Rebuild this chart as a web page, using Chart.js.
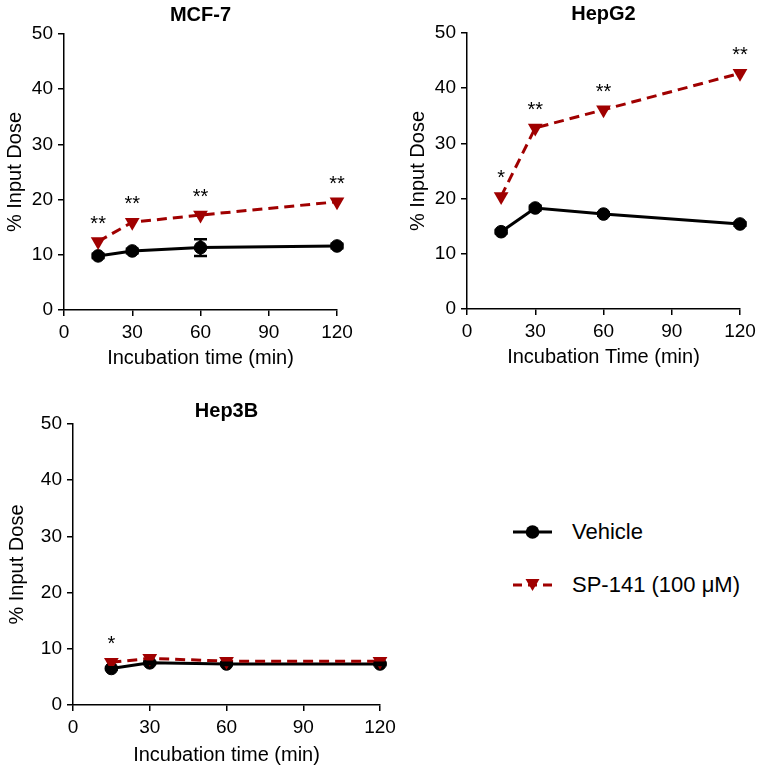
<!DOCTYPE html>
<html><head><meta charset="utf-8">
<script src="https://cdn.jsdelivr.net/npm/chart.js@4/dist/chart.umd.min.js"></script>
<style>
body{margin:0;background:#fff;width:762px;height:771px;position:relative;overflow:hidden;font-family:'Liberation Sans',Arial,sans-serif;}
canvas{position:absolute;}
.lg{position:absolute;font-size:22px;color:#000;line-height:24px;white-space:nowrap;}
svg{position:absolute;}
</style></head><body>
<canvas id="c1" width="380" height="380" style="left:0;top:0"></canvas>
<canvas id="c2" width="359" height="380" style="left:403px;top:0"></canvas>
<canvas id="c3" width="420" height="391" style="left:0;top:380px"></canvas>

<svg width="50" height="20" style="left:508px;top:522px">
  <line x1="5" y1="10" x2="44" y2="10" stroke="#000" stroke-width="3"/>
  <circle cx="24.5" cy="10" r="6.8" fill="#000"/>
</svg>
<div class="lg" style="left:572px;top:520px">Vehicle</div>
<svg width="50" height="20" style="left:508px;top:575px">
  <line x1="5" y1="10" x2="44" y2="10" stroke="#A00000" stroke-width="3" stroke-dasharray="9,6"/>
  <polygon points="17.5,4 31.5,4 24.5,16" fill="#A00000"/>
</svg>
<div class="lg" style="left:572px;top:573px">SP-141 (100 μM)</div>

<script>
// ---- data ----
const times = [15, 30, 60, 120];
const xTicks = [0, 30, 60, 90, 120];
const yTicks = [0, 10, 20, 30, 40, 50];

const mcfVehicle = [9.8, 10.7, 11.3, 11.6];
const mcfVehicleErr = [0.4, 0.4, 1.5, 0.4];
const mcfSP = [12.4, 15.9, 17.2, 19.6];
const mcfSig = ['**', '**', '**', '**'];

const hepg2Vehicle = [14.0, 18.3, 17.2, 15.4];
const hepg2VehicleErr = [0.3, 0.4, 0.3, 0.3];
const hepg2SP = [20.4, 32.8, 36.1, 42.7];
const hepg2Sig = ['*', '**', '**', '**'];

const hep3bVehicle = [6.5, 7.5, 7.3, 7.3];
const hep3bVehicleErr = [0.2, 0.2, 0.2, 0.2];
const hep3bSP = [7.6, 8.3, 7.8, 7.8];
const hep3bSig = ['*', '', '', ''];

const FONT = "'Liberation Sans', Arial, sans-serif";
const RED = '#A00000';

const extrasPlugin = {
  id: 'extras',
  afterDatasetsDraw(chart, args, opts) {
    const ctx = chart.ctx;
    const xs = chart.scales.x, ys = chart.scales.y;
    ctx.save();
    ctx.strokeStyle = '#000';
    ctx.lineWidth = 2.5;
    opts.vehicle.forEach((v, i) => {
      const e = opts.err[i];
      const px = xs.getPixelForValue(opts.times[i]);
      const top = ys.getPixelForValue(v + e), bot = ys.getPixelForValue(v - e);
      ctx.beginPath();
      ctx.moveTo(px, top); ctx.lineTo(px, bot);
      ctx.moveTo(px - 6.5, top); ctx.lineTo(px + 6.5, top);
      ctx.moveTo(px - 6.5, bot); ctx.lineTo(px + 6.5, bot);
      ctx.stroke();
    });
    ctx.fillStyle = '#000';
    ctx.font = '20px ' + FONT;
    ctx.textAlign = 'center';
    ctx.textBaseline = 'alphabetic';
    opts.sig.forEach((s, i) => {
      if (!s) return;
      const px = xs.getPixelForValue(opts.times[i]);
      const py = ys.getPixelForValue(opts.sp[i]);
      ctx.fillText(s, px, py - 12);
    });
    ctx.restore();
  }
};

function makePanel(id, title, xTitle, vehicle, err, sp, sig, L) {
  const ctx = document.getElementById(id);
  return new Chart(ctx, {
    type: 'line',
    data: {
      datasets: [
        {
          label: 'SP-141 (100 μM)',
          data: times.map((t, i) => ({x: t, y: sp[i]})),
          borderColor: RED, backgroundColor: RED,
          borderWidth: 3, borderDash: [10, 6],
          pointStyle: 'triangle', rotation: 180,
          pointRadius: 8.5, pointBorderWidth: 0, pointHoverRadius: 8.5,
          clip: false
        },
        {
          label: 'Vehicle',
          data: times.map((t, i) => ({x: t, y: vehicle[i]})),
          borderColor: '#000', backgroundColor: '#000',
          borderWidth: 3,
          pointStyle: 'circle', pointRadius: 6.3, pointBorderWidth: 1, pointHoverRadius: 6.3,
          clip: false
        }
      ]
    },
    options: {
      responsive: false,
      animation: false,
      events: [],
      layout: {padding: {left: 0, right: L.right, top: 0, bottom: 0}},
      plugins: {
        legend: {display: false},
        tooltip: {enabled: false},
        title: {
          display: true, text: title, fullSize: false, color: '#000',
          font: {family: FONT, size: 20, weight: 'bold'},
          padding: {top: L.tTop, bottom: L.tBottom}
        },
        extras: {times, vehicle, err, sp, sig}
      },
      scales: {
        x: {
          type: 'linear', min: 0, max: 120,
          afterFit(s) { s.height = L.xh; },
          afterBuildTicks(s) { s.ticks = xTicks.map(v => ({value: v})); },
          ticks: {color: '#000', font: {family: FONT, size: 19}, padding: 5, maxRotation: 0},
          grid: {drawOnChartArea: false, drawTicks: true, tickLength: 6, color: '#000', lineWidth: 1.5},
          border: {display: true, color: '#000', width: 1.5},
          title: {display: true, text: xTitle, color: '#000', font: {family: FONT, size: 20}, padding: {top: 0, bottom: L.xtb}}
        },
        y: {
          type: 'linear', min: 0, max: 50,
          afterFit(s) { s.width = L.yw; },
          afterBuildTicks(s) { s.ticks = yTicks.map(v => ({value: v})); },
          ticks: {color: '#000', font: {family: FONT, size: 19}, padding: 5},
          grid: {drawOnChartArea: false, drawTicks: true, tickLength: 6, color: '#000', lineWidth: 1.5},
          border: {display: true, color: '#000', width: 1.5},
          title: {display: true, text: '% Input Dose', color: '#000', font: {family: FONT, size: 20}, padding: {top: L.ytp, bottom: 0}}
        }
      }
    },
    plugins: [extrasPlugin]
  });
}

makePanel('c1', 'MCF-7', 'Incubation time (min)', mcfVehicle, mcfVehicleErr, mcfSP, mcfSig,
  {right: 43, tTop: 3, tBottom: 7, xh: 70, xtb: 10, yw: 64, ytp: 3});
makePanel('c2', 'HepG2', 'Incubation Time (min)', hepg2Vehicle, hepg2VehicleErr, hepg2SP, hepg2Sig,
  {right: 22, tTop: 2.5, tBottom: 6.5, xh: 71, xtb: 10.7, yw: 64, ytp: 3});
makePanel('c3', 'Hep3B', 'Incubation time (min)', hep3bVehicle, hep3bVehicleErr, hep3bSP, hep3bSig,
  {right: 40, tTop: 19.7, tBottom: 0.3, xh: 66, xtb: 4, yw: 73, ytp: 5.5});
</script>
</body></html>
